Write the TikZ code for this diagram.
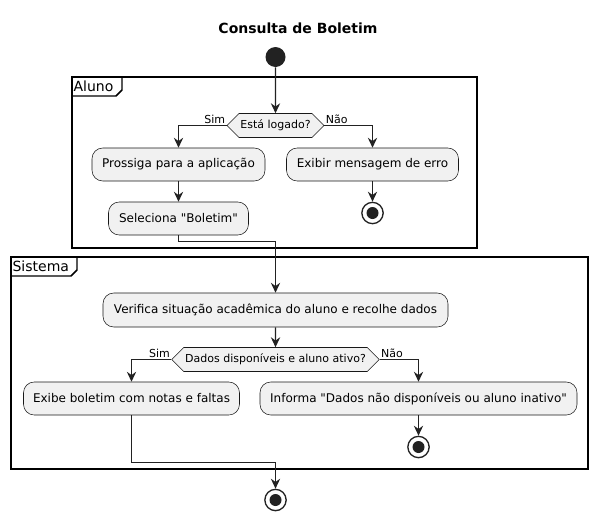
\documentclass[tikz,border=0pt]{standalone}
\usepackage{fontspec}
\setmainfont{DejaVu Sans}[Ligatures=TeXOff]
\usetikzlibrary{arrows.meta,shapes.symbols}

\definecolor{ink}{HTML}{222222}
\definecolor{actfill}{HTML}{F1F1F1}
\definecolor{actline}{HTML}{181818}

\tikzset{
  action/.style={draw=actline, line width=0.4pt, fill=actfill, rounded corners=8pt,
    minimum height=24.75pt, inner sep=0pt, font=\fontsize{9}{11}\selectfont},
  decision/.style={shape=signal, signal to=west and east, signal pointer angle=90,
    draw=actline, line width=0.4pt, fill=actfill, minimum height=18pt,
    inner xsep=1pt, inner ysep=0pt, font=\fontsize{8.25}{10}\selectfont},
  startnode/.style={circle, fill=ink, minimum size=15pt, inner sep=0pt},
  stopnode/.style={circle, draw=ink, line width=1pt, fill=white, minimum size=16pt,
    inner sep=0pt, path picture={\fill[ink] (path picture bounding box.center) circle (4.5pt);}},
  flow/.style={draw=ink, line width=0.9pt, -{Stealth[length=7.5pt,width=7pt,inset=2.5pt]}},
  guard/.style={inner sep=1pt, font=\fontsize{8.25}{10}\selectfont},
  frame/.style={draw=black, line width=1.1pt},
  framelbl/.style={inner sep=1pt, font=\fontsize{10.5}{12}\selectfont}
}

\begin{document}
\begin{tikzpicture}[x=0.75pt, y=-0.75pt]
    \useasboundingbox (0,0) rectangle (598,521);

    % Title
    \node[font=\fontsize{10.5}{12}\selectfont\bfseries] (titulo) at (298,28) {Consulta de Boletim};

    % Aluno swimlane
    \draw[frame] (72,77) rectangle (477,248);
    \draw[frame] (72,96) -- (116,96) -- (122,90) -- (122,77);
    \node[framelbl, anchor=west] (aluno) at (72,86.5) {Aluno};

    \node[startnode] (inicio) at (275.5,57) {};
    \node[decision] (logado) at (275.5,125.5) {Está logado?};
    \node[guard, anchor=south east] (sim1) at (logado.west) {Sim};
    \node[guard, anchor=south west] (nao1) at (logado.east) {Não};
    \node[action, minimum width=129.75pt] (prossiga) at (178.5,164.5) {Prossiga para a aplicação};
    \node[action, minimum width=129pt] (erro) at (372.5,164.5) {Exibir mensagem de erro};
    \node[action, minimum width=105pt] (seleciona) at (178.5,218.5) {Seleciona "Boletim"};
    \node[stopnode] (fim1) at (372.5,213) {};

    % Sistema swimlane
    \draw[frame] (11,257) rectangle (588,469);
    \draw[frame] (11,276) -- (71,276) -- (77,270) -- (77,257);
    \node[framelbl, anchor=west] (sistema) at (11,266.5) {Sistema};

    \node[action, minimum width=258.75pt, minimum height=25.5pt] (verifica) at (275.5,310) {Verifica situação acadêmica do aluno e recolhe dados};
    \node[decision] (ativo) at (275.5,359.5) {Dados disponíveis e aluno ativo?};
    \node[guard, anchor=south east] (sim2) at (ativo.west) {Sim};
    \node[guard, anchor=south west] (nao2) at (ativo.east) {Não};
    \node[action, minimum width=162pt] (exibe) at (131.5,398.5) {Exibe boletim com notas e faltas};
    \node[action, minimum width=237.75pt] (informa) at (418.5,398.5) {Informa "Dados não disponíveis ou aluno inativo"};
    \node[stopnode] (fim2) at (418.5,447) {};

    \node[stopnode] (fim) at (275.5,500) {};

    % Connectors
    \draw[flow] (inicio) -- (logado);
    \draw[flow] (logado.west) -| (prossiga);
    \draw[flow] (logado.east) -| (erro);
    \draw[flow] (prossiga) -- (seleciona);
    \draw[flow] (erro) -- (fim1);
    \draw[flow] (seleciona.south) -- ++(0,6.5) -| (verifica.north);
    \draw[flow] (verifica) -- (ativo);
    \draw[flow] (ativo.west) -| (exibe);
    \draw[flow] (ativo.east) -| (informa);
    \draw[flow] (informa) -- (fim2);
    \draw[flow] (exibe.south) -- ++(0,47) -| (fim);
\end{tikzpicture}
\end{document}
